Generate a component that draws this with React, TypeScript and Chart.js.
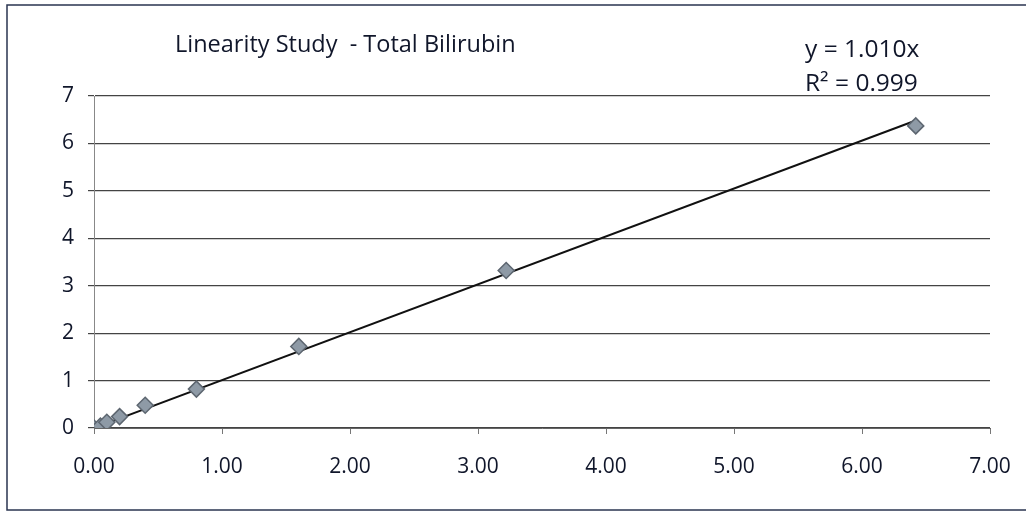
import React, { useEffect, useRef } from "react";
import { Chart, registerables } from "chart.js";

Chart.register(...registerables);

const xValues = [0, 0.05, 0.1, 0.2, 0.4, 0.8, 1.6, 3.22, 6.42];
const yValues = [0, 0.04, 0.12, 0.24, 0.48, 0.82, 1.72, 3.32, 6.37];
const slope = 1.01;
const trendX = [0, 6.42];
const titleText = "Linearity Study  - Total Bilirubin";
const eqLines = ["y = 1.010x", "R² = 0.999"];

const FONT = "'Open Sans', Lato, sans-serif";

const overlay = {
  id: "overlay",
  afterDraw(chart: any) {
    const ctx = chart.ctx;
    ctx.save();
    ctx.strokeStyle = "#2a3550";
    ctx.lineWidth = 1.5;
    ctx.strokeRect(7, 5, 1030, 505);
    ctx.fillStyle = "#10162a";
    ctx.font = `23.5px ${FONT}`;
    ctx.textBaseline = "middle";
    ctx.textAlign = "left";
    ctx.fillText(titleText, 175, 45);
    ctx.font = `24.5px ${FONT}`;
    ctx.fillText(eqLines[0], 805, 50);
    ctx.fillText(eqLines[1], 805, 84);
    ctx.restore();
  },
};

export default function App() {
  const ref = useRef<HTMLCanvasElement>(null);
  useEffect(() => {
    document.body.style.margin = "0";
    const pts = xValues.map((x, i) => ({ x, y: yValues[i] }));
    const trend = trendX.map((x) => ({ x, y: x * slope }));
    const chart = new Chart(ref.current!, {
      type: "scatter",
      data: {
        datasets: [
          {
            data: trend,
            type: "line",
            showLine: true,
            borderColor: "#111",
            borderWidth: 2,
            pointRadius: 0,
            order: 2,
          } as any,
          {
            data: pts,
            pointStyle: "rectRot",
            pointRadius: 8,
            backgroundColor: "#8e9aa6",
            borderColor: "#5d6670",
            borderWidth: 1.5,
            order: 1,
          },
        ],
      },
      options: {
        animation: false,
        responsive: false,
        layout: { padding: { left: 20, right: 36, top: 96, bottom: 20 } },
        plugins: { legend: { display: false }, tooltip: { enabled: false } },
        scales: {
          x: {
            type: "linear",
            min: 0,
            max: 7,
            afterFit: (s: any) => {
              s.height = 65;
              s.paddingLeft = 0;
              s.paddingRight = 0;
            },
            grid: {
              drawOnChartArea: false,
              drawTicks: true,
              tickLength: 6,
              color: "#777",
            },
            border: { color: "#666", width: 1 },
            ticks: {
              stepSize: 1,
              padding: 20,
              color: "#10162a",
              font: { family: FONT, size: 21 },
              callback: (v: any) => Number(v).toFixed(2),
            },
          },
          y: {
            min: 0,
            max: 7,
            afterFit: (s: any) => {
              s.width = 74;
            },
            grid: {
              color: "#444",
              lineWidth: 1.2,
              tickLength: 6,
            },
            border: { color: "#888", width: 1 },
            ticks: {
              stepSize: 1,
              padding: 14,
              color: "#10162a",
              font: { family: FONT, size: 21 },
            },
          },
        },
      },
      plugins: [overlay],
    });
    return () => chart.destroy();
  }, []);
  return (
    <div style={{ width: 1026, height: 513 }}>
      <canvas ref={ref} width={1026} height={513} style={{ display: "block" }} />
    </div>
  );
}
